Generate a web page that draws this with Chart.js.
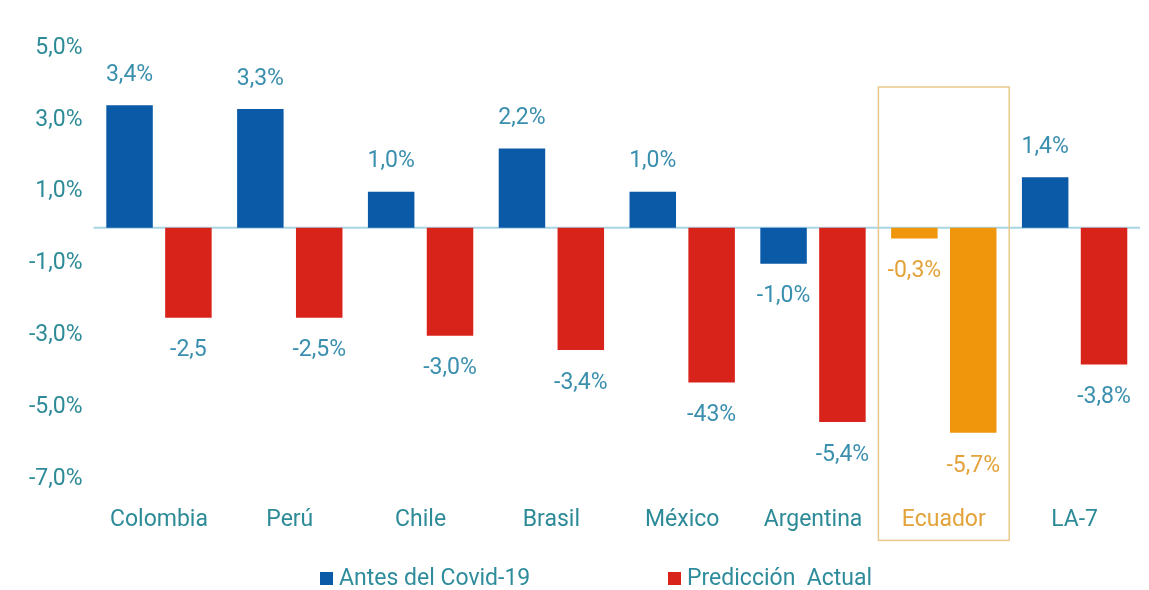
<!DOCTYPE html>
<html><head><meta charset="utf-8">
<script src="https://cdn.jsdelivr.net/npm/chart.js@4"></script>
<style>
html,body{margin:0;padding:0;background:#fff;}
#wrap{position:relative;width:1149px;height:590px;overflow:hidden;}
#legend{position:absolute;left:0;top:564px;width:1149px;height:28px;font-family:Roboto,sans-serif;font-size:23px;color:#2f8c9c;}
.item{position:absolute;top:0;display:flex;align-items:center;white-space:pre;line-height:28px;}
.sw{width:13px;height:13px;margin-right:6px;}
</style></head><body>
<div id="wrap"><canvas id="c" width="1149" height="590"></canvas><div id="legend"></div></div>
<script>
const categories = ['Colombia','Perú','Chile','Brasil','México','Argentina','Ecuador','LA-7'];
const antesValues = [3.4, 3.3, 1.0, 2.2, 1.0, -1.0, -0.3, 1.4];
const prediccionValues = [-2.5, -2.5, -3.0, -3.4, -4.3, -5.4, -5.7, -3.8];
const antesLabels = ['3,4%','3,3%','1,0%','2,2%','1,0%','-1,0%','-0,3%','1,4%'];
const prediccionLabels = ['-2,5','-2,5%','-3,0%','-3,4%','-43%','-5,4%','-5,7%','-3,8%'];
const yTickValues = [5, 3, 1, -1, -3, -5, -7];
const yTickLabels = ['5,0%','3,0%','1,0%','-1,0%','-3,0%','-5,0%','-7,0%'];
const seriesNames = ['Antes del Covid-19', 'Predicción  Actual'];
const highlight = 'Ecuador';

const BLUE = '#0b5aa8', RED = '#d8231a', ORANGE = '#f0960c';
const TEAL = '#2d8b98', LABEL = '#3a8fae', ORANGE_TXT = '#e3a23a', BOX = '#e9c98c', ZERO = '#a9d4e4';
const FONT = 'Roboto';

function colorsFor(base){ return categories.map(c => c === highlight ? ORANGE : base); }
const allLabels = [antesLabels, prediccionLabels];

const zeroAndBox = {
  id: 'zeroAndBox',
  beforeDatasetsDraw(chart){
    const {ctx, chartArea, scales:{x, y}} = chart;
    const y0 = y.getPixelForValue(0);
    ctx.save();
    ctx.strokeStyle = ZERO; ctx.lineWidth = 2;
    ctx.beginPath(); ctx.moveTo(chartArea.left, y0); ctx.lineTo(chartArea.right, y0); ctx.stroke();
    const idx = categories.indexOf(highlight);
    const cx = x.getPixelForValue(idx);
    const half = (x.width / categories.length) / 2;
    ctx.strokeStyle = BOX; ctx.lineWidth = 1.5;
    ctx.strokeRect(cx - half, chartArea.top + 50, half * 2, chartArea.bottom - chartArea.top);
    ctx.restore();
  }
};

const valueLabels = {
  id: 'valueLabels',
  afterDatasetsDraw(chart){
    const {ctx} = chart;
    ctx.save();
    ctx.font = '23px ' + FONT;
    ctx.textAlign = 'center';
    ctx.textBaseline = 'middle';
    chart.data.datasets.forEach((ds, di) => {
      const meta = chart.getDatasetMeta(di);
      meta.data.forEach((el, i) => {
        const v = ds.data[i];
        ctx.fillStyle = categories[i] === highlight ? ORANGE_TXT : LABEL;
        const ty = v >= 0 ? el.y - 30 : el.y + 33;
        ctx.fillText(allLabels[di][i], el.x, ty);
      });
    });
    ctx.restore();
  }
};

new Chart(document.getElementById('c'), {
  type: 'bar',
  data: {
    labels: categories,
    datasets: [
      { label: seriesNames[0], data: antesValues, backgroundColor: colorsFor(BLUE) },
      { label: seriesNames[1], data: prediccionValues, backgroundColor: colorsFor(RED) }
    ]
  },
  options: {
    responsive: false,
    animation: false,
    layout: { padding: { top: 37, left: 18, right: 9, bottom: 40 } },
    datasets: { bar: { categoryPercentage: 0.9, barPercentage: 0.79 } },
    plugins: { legend: { display: false }, tooltip: { enabled: false } },
    scales: {
      x: {
        grid: { display: false, drawTicks: false },
        border: { display: false },
        ticks: {
          padding: 16,
          font: { family: FONT, size: 23 },
          color: c => categories[c.index] === highlight ? ORANGE_TXT : TEAL
        }
      },
      y: {
        min: -7.3, max: 5.3,
        grid: { display: false, drawTicks: false },
        border: { display: false },
        afterBuildTicks: s => { s.ticks = yTickValues.map(v => ({ value: v })); },
        ticks: {
          padding: 11,
          font: { family: FONT, size: 23 },
          color: TEAL,
          callback: (v, i) => yTickLabels[i]
        }
      }
    }
  },
  plugins: [zeroAndBox, valueLabels]
});

const legend = document.getElementById('legend');
const legendX = [320, 668];
const legendColors = [BLUE, RED];
seriesNames.forEach((n, i) => {
  const it = document.createElement('div');
  it.className = 'item';
  it.style.left = legendX[i] + 'px';
  const sw = document.createElement('span');
  sw.className = 'sw';
  sw.style.background = legendColors[i];
  const t = document.createElement('span');
  t.textContent = n;
  it.appendChild(sw); it.appendChild(t);
  legend.appendChild(it);
});
</script>
</body></html>
